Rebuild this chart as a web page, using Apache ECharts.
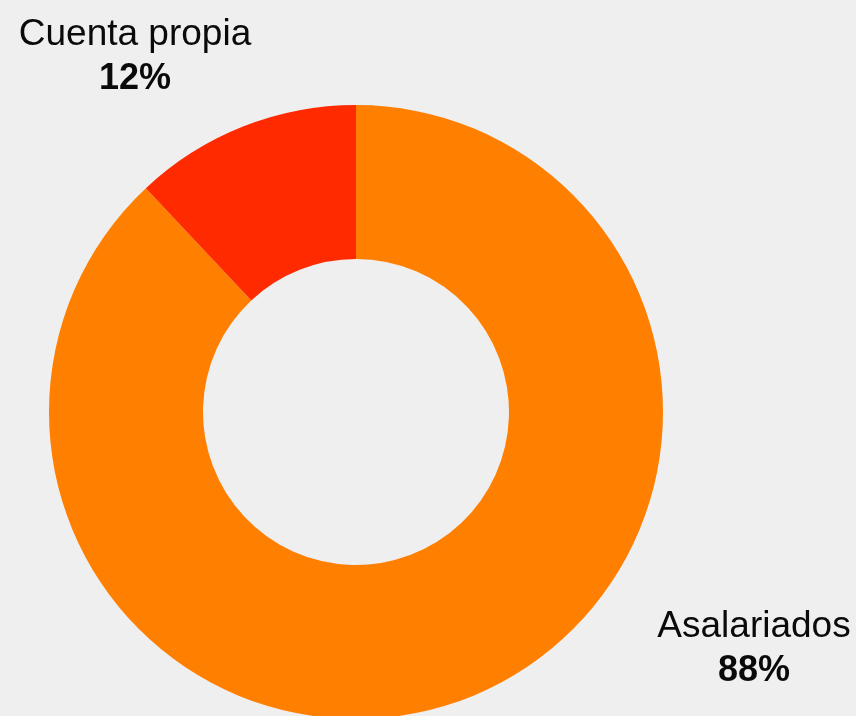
<!DOCTYPE html>
<html>
<head>
<meta charset="utf-8">
<script src="https://cdn.jsdelivr.net/npm/echarts@6/dist/echarts.min.js"></script>
<style>
  html, body { margin: 0; padding: 0; background: #efefef; }
  #chart { width: 856px; height: 716px; }
</style>
</head>
<body>
<div id="chart"></div>
<script>
// datos
var categorias = ['Asalariados', 'Cuenta propia'];
var valores = [88, 12];
var colores = ['#FF7F00', '#FF2A00'];

// posicion de las etiquetas (centro del bloque de texto)
var posEtiquetas = [[754, 649], [135, 57]];

var datos = [];
for (var i = 0; i < categorias.length; i++) {
  datos.push({ name: categorias[i], value: valores[i], itemStyle: { color: colores[i] } });
}

var chart = echarts.init(document.getElementById('chart'));
chart.setOption({
  backgroundColor: '#efefef',
  animation: false,
  series: [{
    type: 'pie',
    center: [356, 412],
    radius: [153, 307],
    startAngle: 90,
    clockwise: true,
    avoidLabelOverlap: false,
    label: {
      show: true,
      position: 'outside',
      formatter: '{n|{b}}\n{p|{d}%}',
      align: 'center',
      rich: {
        n: { fontFamily: 'Liberation Sans, Arial, sans-serif', fontSize: 37, color: '#0a0a0a', lineHeight: 45, align: 'center' },
        p: { fontFamily: 'Liberation Sans, Arial, sans-serif', fontSize: 36, fontWeight: 'bold', color: '#0a0a0a', lineHeight: 45, align: 'center' }
      }
    },
    labelLine: { show: false },
    labelLayout: function (params) {
      var p = posEtiquetas[params.dataIndex];
      return { x: p[0], y: p[1], align: 'center', verticalAlign: 'middle' };
    },
    data: datos
  }]
});
</script>
</body>
</html>
